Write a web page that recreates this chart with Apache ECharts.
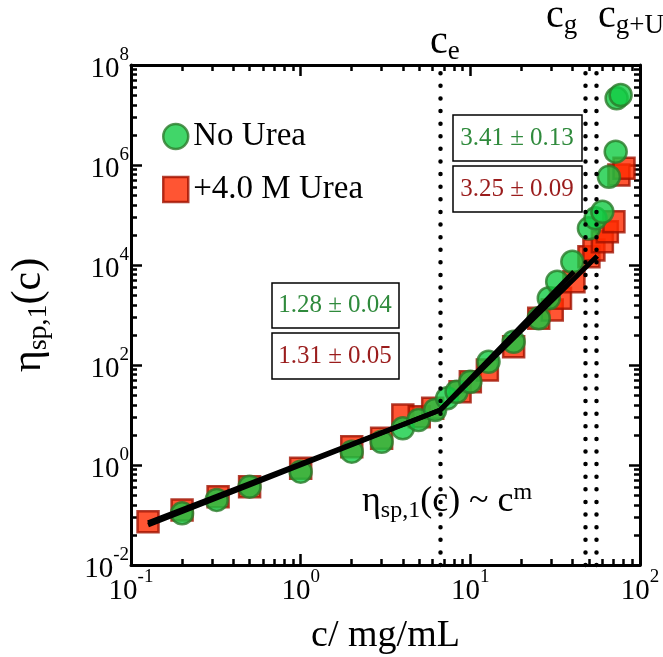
<!DOCTYPE html>
<html><head><meta charset="utf-8">
<script src="https://cdn.jsdelivr.net/npm/echarts@6/dist/echarts.min.js"></script>
<style>html,body{margin:0;padding:0;background:#fff}#c{width:663px;height:657px}</style>
</head><body><div id="c"></div>
<script>
// ---- data ----
const noUreaC   = [0.2, 0.32, 0.5, 1.0, 2.0, 3.0, 4.0, 4.95, 6.2, 7.3, 8.3, 10, 12.8, 18.0, 25.3, 29.0, 32.5, 39.9, 50, 54.7, 60, 65.6, 71.9, 72.8, 76.9];
const noUreaEta = [0.108, 0.20, 0.368, 0.735, 1.85, 2.92, 5.42, 7.94, 12.6, 21.6, 29.2, 46.3, 116, 292, 859, 2160, 4630, 11600, 54200, 85900, 116000, 583000, 1.85e6, 2.16e7, 2.51e7];
const ureaC   = [0.126, 0.2, 0.326, 0.5, 1.0, 2.0, 3.0, 4.0, 5.0, 6.0, 8.7, 10, 12.6, 18.0, 25.3, 30.4, 34.0, 40.8, 50, 53.5, 60, 64.2, 70.2, 75.1, 80.5];
const ureaEta = [0.073, 0.126, 0.232, 0.368, 0.86, 2.32, 3.42, 10, 9.25, 13.6, 29.2, 46.3, 79, 232, 859, 1260, 2160, 4630, 14700, 20000, 29200, 46300, 73500, 631000, 859000];
const fitNoUreaC   = [0.126, 6.65, 40.8];
const fitNoUreaEta = [0.07, 12.6, 7350];
const fitUreaC     = [0.126, 6.65, 56];
const fitUreaEta   = [0.063, 12.6, 15100];
const critC = [6.65, 47.8, 55.5];
const xMajor = [0.1, 1, 10, 100];
const yMajor = [1e-2, 1, 1e2, 1e4, 1e6, 1e8];
const slopeLabels = ['3.41 ± 0.13', '3.25 ± 0.09', '1.28 ± 0.04', '1.31 ± 0.05'];

// ---- minor ticks ----
const xMinor = [];
for (let d = -1; d <= 1; d++) for (let k = 2; k <= 9; k++) xMinor.push(k * Math.pow(10, d));
const yMinor = [];
for (let j = -1; j <= 3; j++) for (let k = 2; k <= 9; k++) yMinor.push(k * k * Math.pow(10, 2 * j));

const FONT = 'Liberation Serif';
const GREEN_T = '#2f8a3c', RED_T = '#9a1c1c';
function sup(v) { const e = Math.round(Math.log10(v)); return '{b|10}{s|' + e + '}'; }
const richLab = {
  b: {fontSize: 29, fontFamily: FONT, color: '#000', lineHeight: 38, verticalAlign: 'bottom'},
  s: {fontSize: 19, fontFamily: FONT, color: '#000', lineHeight: 19, verticalAlign: 'top'}
};
function mkX(pos, ticks, len, label, line, extra) {
  return Object.assign({
    type: 'log', logBase: 10, min: 0.1, max: 100, position: pos,
    axisLine: {show: line, onZero: false, lineStyle: {color: '#000', width: 3}},
    axisTick: {show: true, inside: true, length: len, customValues: ticks, lineStyle: {color: '#000', width: 2.5}},
    axisLabel: {show: label, customValues: xMajor, formatter: sup, rich: richLab, margin: 3},
    splitLine: {show: false}
  }, extra || {});
}
function mkY(pos, ticks, len, label, line, extra) {
  return Object.assign({
    type: 'log', logBase: 10, min: 1e-2, max: 1e8, position: pos,
    axisLine: {show: line, onZero: false, lineStyle: {color: '#000', width: 3}},
    axisTick: {show: true, inside: true, length: len, customValues: ticks, lineStyle: {color: '#000', width: 2.5}},
    axisLabel: {show: label, customValues: yMajor, formatter: sup, rich: richLab, margin: 2},
    splitLine: {show: false}
  }, extra || {});
}
const zip = (a, b) => a.map((v, i) => [v, b[i]]);
const subRich = (big, small) => ({
  n: {fontSize: big, fontFamily: FONT, fill: '#000', color: '#000', lineHeight: big + 6, verticalAlign: 'middle'},
  s: {fontSize: small, fontFamily: FONT, fill: '#000', color: '#000', lineHeight: small, verticalAlign: 'bottom'},
  p: {fontSize: small, fontFamily: FONT, fill: '#000', color: '#000', lineHeight: small, verticalAlign: 'top'}
});

const chart = echarts.init(document.getElementById('c'));
chart.setOption({
  animation: false,
  backgroundColor: '#fff',
  grid: {left: 131, right: 23, top: 65, bottom: 92, containLabel: false, outerBoundsMode: 'none'},
  xAxis: [
    mkX('bottom', xMajor, 11, true, true, {name: 'c/ mg/mL', nameLocation: 'middle', nameGap: 52,
      nameTextStyle: {fontSize: 38, fontFamily: FONT, color: '#000'}}),
    mkX('bottom', xMinor, 6, false, false),
    mkX('top', xMajor, 11, false, true),
    mkX('top', xMinor, 6, false, false)
  ],
  yAxis: [
    mkY('left', yMajor, 11, true, true, {name: '{n|η}{s|sp,1}{n|(c)}', nameLocation: 'middle', nameGap: 78, nameRotate: 90,
      nameTextStyle: {rich: subRich(42, 28)}}),
    mkY('left', yMinor, 6, false, false),
    mkY('right', yMajor, 11, false, true),
    mkY('right', yMinor, 6, false, false)
  ],
  legend: {
    data: ['No Urea', '+4.0 M Urea'], orient: 'vertical', left: 157, top: 115, itemGap: 20, itemTextGap: 14,
    itemWidth: 25, itemHeight: 25, itemStyle: {borderWidth: 2.5},
    textStyle: {fontSize: 33, fontFamily: FONT, color: '#000'}
  },
  series: [
    {name: '+4.0 M Urea', type: 'scatter', data: zip(ureaC, ureaEta), symbol: 'rect', symbolSize: 21, z: 3,
      itemStyle: {color: '#ff2a00', borderColor: '#a01200', borderWidth: 2.5},
      markLine: {silent: true, symbol: 'none', label: {show: false},
        lineStyle: {color: '#000', width: 4.5, type: [0.01, 12.6], cap: 'round'},
        data: critC.map(v => ({xAxis: v}))}},
    {name: 'No Urea', type: 'scatter', data: zip(noUreaC, noUreaEta), symbol: 'circle', symbolSize: 22, z: 4,
      itemStyle: {color: '#12cc44', borderColor: '#2a7a2a', borderWidth: 2.5}},
    {name: 'fitNo', type: 'line', data: zip(fitNoUreaC, fitNoUreaEta), symbol: 'none', z: 5,
      lineStyle: {color: '#000', width: 5}},
    {name: 'fitU', type: 'line', data: zip(fitUreaC, fitUreaEta), symbol: 'none', z: 5,
      lineStyle: {color: '#000', width: 5}}
  ],
  graphic: [
    {type: 'rect', shape: {x: 453, y: 115, width: 129, height: 46}, style: {fill: '#fff', stroke: '#000', lineWidth: 1.5}},
    {type: 'text', style: {text: slopeLabels[0], x: 517, y: 138, align: 'center', verticalAlign: 'middle', font: '25px "Liberation Serif"', fill: GREEN_T}},
    {type: 'rect', shape: {x: 453, y: 166, width: 129, height: 46}, style: {fill: '#fff', stroke: '#000', lineWidth: 1.5}},
    {type: 'text', style: {text: slopeLabels[1], x: 517, y: 189, align: 'center', verticalAlign: 'middle', font: '25px "Liberation Serif"', fill: RED_T}},
    {type: 'rect', shape: {x: 272, y: 283, width: 127, height: 45}, style: {fill: '#fff', stroke: '#000', lineWidth: 1.5}},
    {type: 'text', style: {text: slopeLabels[2], x: 335, y: 305, align: 'center', verticalAlign: 'middle', font: '25px "Liberation Serif"', fill: GREEN_T}},
    {type: 'rect', shape: {x: 272, y: 333, width: 127, height: 46}, style: {fill: '#fff', stroke: '#000', lineWidth: 1.5}},
    {type: 'text', style: {text: slopeLabels[3], x: 335, y: 356, align: 'center', verticalAlign: 'middle', font: '25px "Liberation Serif"', fill: RED_T}},
    {type: 'text', style: {text: '{n|η}{s|sp,1}{n|(c) ~ c}{p|m}', x: 362, y: 502, verticalAlign: 'middle', rich: subRich(36, 24)}},
    {type: 'text', style: {text: '{n|c}{s|e}', x: 430, y: 42, verticalAlign: 'middle', rich: subRich(40, 27)}},
    {type: 'text', style: {text: '{n|c}{s|g}', x: 546, y: 16, verticalAlign: 'middle', rich: subRich(40, 27)}},
    {type: 'text', style: {text: '{n|c}{s|g+U}', x: 598, y: 16, verticalAlign: 'middle', rich: subRich(40, 27)}}
  ]
});
</script></body></html>
